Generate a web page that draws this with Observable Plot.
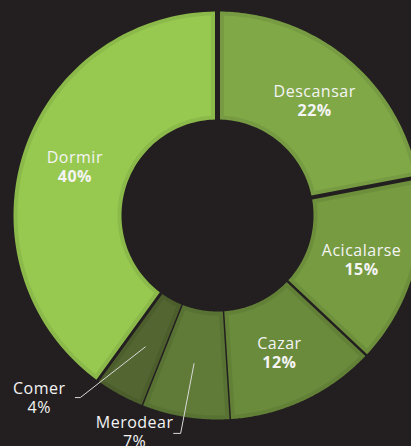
<!DOCTYPE html>
<html><head><meta charset="utf-8">
<script src="https://cdn.jsdelivr.net/npm/d3@7"></script>
<script src="https://cdn.jsdelivr.net/npm/@observablehq/plot@0.6"></script>
<style>html,body{margin:0;padding:0;background:#231f20;overflow:hidden}</style>
</head><body><div id="chart"></div>
<script>
const categories = ["Descansar", "Acicalarse", "Cazar", "Merodear", "Comer", "Dormir"];
const shares = [22, 15, 12, 7, 4, 40];
const colors = ["#80a847", "#769b41", "#6a8b3c", "#5f7b37", "#536631", "#97c950"];
const outside = ["Merodear", "Comer"];

const W = 411, H = 446, CX = 217, CY = 215, R0 = 96, R1 = 204;
const gaps = [5, 4, 2.5, 1.5, 1.5, 3];
const inset = 4;
const LR = 150;
const nudges = {Descansar: [1.5, -2.5], Dormir: [0, -6.5], Acicalarse: [0, -1], Cazar: [-2, -2.5]};
const leaders = {Comer: {r: 228, da: 8.2, stub: 5, tdx: -36, tdy: -4}, Merodear: {r: 221, da: 0.6, stub: 7, tdx: -39, tdy: -5}};

const total = d3.sum(shares);
let acc = 0;
const slices = categories.map((c, i) => {
  const a0 = acc / total * 2 * Math.PI; acc += shares[i];
  const a1 = acc / total * 2 * Math.PI;
  return {c, v: shares[i], a0, a1, mid: (a0 + a1) / 2, color: colors[i],
    p0: gaps[i] / 2, p1: gaps[(i + 1) % gaps.length] / 2};
});
const pt = (r, a) => [r * Math.sin(a), -r * Math.cos(a)];
function poly(s, ins, color) {
  const r0 = R0 + ins, r1 = R1 - ins, p0 = s.p0 + ins, p1 = s.p1 + ins, n = 90;
  const b0 = r => s.a0 + Math.asin(p0 / r), b1 = r => s.a1 - Math.asin(p1 / r);
  const pts = [];
  for (let k = 0; k <= n; k++) pts.push(pt(r1, b0(r1) + (b1(r1) - b0(r1)) * k / n));
  for (let k = 0; k <= n; k++) pts.push(pt(r0, b1(r0) + (b0(r0) - b1(r0)) * k / n));
  pts.push(pts[0]);
  return pts.map(([x, y]) => ({key: s.c + (ins ? "-in" : "-out"), x, y, color}));
}
const outerPolys = slices.flatMap(s => poly(s, 0, d3.color(s.color).darker(0.22).formatHex()));
const innerPolys = slices.flatMap(s => poly(s, inset, s.color));

const inLabels = slices.filter(s => !outside.includes(s.c)).map(s => {
  const [x, y] = pt(LR, s.mid); const [dx, dy] = nudges[s.c] || [0, 0];
  return {name: s.c, pct: s.v + "%", x: x + dx, y: y + dy, bold: 700};
});
const leaderLines = [], outLabels = [];
slices.filter(s => outside.includes(s.c)).forEach(s => {
  const L = leaders[s.c];
  const [sx, sy] = pt(LR, s.mid);
  const [ex, ey] = pt(L.r, s.mid + L.da * Math.PI / 180);
  leaderLines.push({k: s.c, x: sx, y: sy}, {k: s.c, x: ex, y: ey}, {k: s.c, x: ex - L.stub, y: ey});
  outLabels.push({name: s.c, pct: s.v + "%", x: ex - L.stub + L.tdx, y: ey + L.tdy, bold: 400});
});
const font = "'Open Sans', sans-serif";

const chart = Plot.plot({
  width: W, height: H, margin: 0,
  style: {background: "#231f20", letterSpacing: "0.5px"},
  x: {domain: [-CX, W - CX], range: [0, W], axis: null},
  y: {domain: [-CY, H - CY], range: [0, H], axis: null},
  marks: [
    Plot.line(outerPolys, {x: "x", y: "y", z: "key", fill: "color", stroke: null, curve: "linear"}),
    Plot.line(innerPolys, {x: "x", y: "y", z: "key", fill: "color", stroke: null, curve: "linear"}),
    Plot.line(leaderLines, {x: "x", y: "y", z: "k", stroke: "#d9d9d9", strokeWidth: 1}),
    Plot.text(inLabels.concat(outLabels), {x: "x", y: "y", text: "name", fill: "#f4f4f4", fontSize: 16, fontFamily: font, lineAnchor: "bottom"}),
    Plot.text(inLabels, {x: "x", y: d => d.y + 19, text: "pct", fill: "#f4f4f4", fontSize: 16, fontWeight: 700, fontFamily: font, lineAnchor: "bottom"}),
    Plot.text(outLabels, {x: "x", y: d => d.y + 19, text: "pct", fill: "#f4f4f4", fontSize: 16, fontFamily: font, lineAnchor: "bottom"})
  ]
});
document.getElementById("chart").appendChild(chart);
</script>
</body></html>
